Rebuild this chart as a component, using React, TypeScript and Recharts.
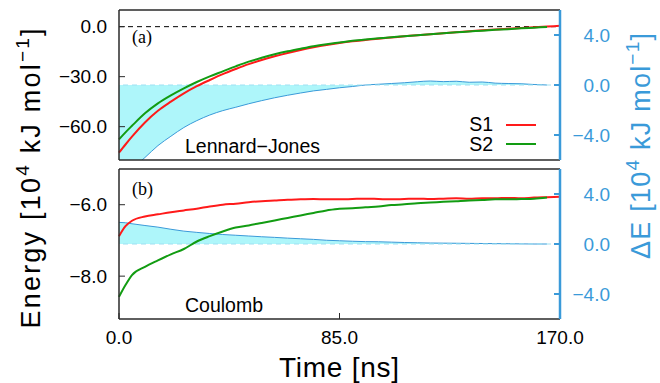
import React from 'react';
import { ComposedChart, Line, Area, XAxis, YAxis, ReferenceLine, Legend } from 'recharts';

// time grid [ns]
const time = [0, 2.5, 5, 10, 15, 20, 25, 30, 35, 40, 45, 50, 55, 60, 65, 70, 75, 80, 85, 90, 95, 100, 105, 110, 115, 120, 125, 130, 135, 140, 145, 150, 155, 160, 165, 170];

// (a) Lennard-Jones, 10^4 kJ/mol
const ljS1 = [-75.6, -70.7, -66, -57.5, -50.5, -45, -40, -35.7, -32, -28.5, -25.4, -22.5, -20, -17.8, -15.8, -14, -12.4, -11, -9.8, -8.8, -8, -7.2, -6.5, -5.8, -5.1, -4.5, -3.9, -3.3, -2.7, -2.2, -1.7, -1.2, -0.75, -0.3, 0.1, 0.5];
const ljS2 = [-67.6, -63.4, -59.5, -52, -46, -41.2, -37, -33.2, -29.8, -26.8, -23.8, -21, -18.7, -16.6, -14.8, -13.2, -11.7, -10.5, -9.5, -8.5, -7.7, -7, -6.3, -5.7, -5.1, -4.5, -3.9, -3.4, -2.9, -2.4, -1.9, -1.5, -1.0, -0.6, -0.2, null];
const ljDelta = [-7.6, -7.15, -6.7, -5.8, -4.85, -4.1, -3.4, -2.85, -2.4, -2.05, -1.78, -1.5, -1.25, -1.02, -0.82, -0.64, -0.47, -0.35, -0.22, -0.12, 0.0, 0.06, 0.12, 0.18, 0.26, 0.32, 0.27, 0.3, 0.22, 0.24, 0.15, 0.12, 0.1, 0.04, 0.0, null];

// (b) Coulomb, 10^4 kJ/mol
const coulS1 = [-6.88, -6.6, -6.45, -6.33, -6.27, -6.21, -6.16, -6.11, -6.05, -6.0, -5.97, -5.93, -5.9, -5.88, -5.86, -5.85, -5.84, -5.85, -5.85, -5.84, -5.83, -5.84, -5.85, -5.84, -5.83, -5.84, -5.83, -5.82, -5.83, -5.82, -5.82, -5.81, -5.82, -5.8, -5.79, -5.78];
const coulS2 = [-8.58, -8.25, -7.97, -7.74, -7.56, -7.39, -7.24, -7.03, -6.88, -6.75, -6.64, -6.58, -6.51, -6.44, -6.37, -6.3, -6.23, -6.16, -6.11, -6.1, -6.07, -6.05, -6.01, -5.99, -5.96, -5.94, -5.92, -5.9, -5.88, -5.87, -5.85, -5.85, -5.84, -5.83, -5.8, null];
const coulDelta = [1.73, 1.7, 1.62, 1.48, 1.35, 1.18, 1.03, 0.93, 0.84, 0.76, 0.7, 0.64, 0.58, 0.53, 0.47, 0.42, 0.37, 0.3, 0.26, 0.22, 0.19, 0.18, 0.15, 0.12, 0.1, 0.08, 0.07, 0.06, 0.05, 0.04, 0.03, 0.02, 0.01, 0.0, 0.0, null];

const xTicks = [0, 85, 170];
const deltaTicks = [-4, 0, 4];
const ljTicks = [-60, -30, 0];
const coulTicks = [-8, -6];

const RED = '#ff1a1a';
const GREEN = '#129c12';
const BLUE = '#3a9ad9';
const CYAN = '#aef6fa';
const FONT = '"Liberation Sans", Arial, Helvetica, sans-serif';
const SERIF = '"Liberation Serif", "Times New Roman", serif';

const fmt = (v: number) => (v < 0 ? '\u2212' : '') + Math.abs(v).toFixed(1);

const ljData = time.map((t, i) => ({ t, s1: ljS1[i], s2: ljS2[i], d: ljDelta[i] }));
const coulData = time.map((t, i) => ({ t, s1: coulS1[i], s2: coulS2[i], d: coulDelta[i] }));

const RightTick = (props: any) => {
    const { x, y, payload } = props;
    return (
        <text x={x + 56} y={y} dy="0.35em" textAnchor="end" fill={BLUE} fontSize={19} fontFamily={FONT}>
            {fmt(payload.value)}
        </text>
    );
};

const renderLegend = (props: any) => {
    const items = (props.payload || []).filter((p: any) => p.value === 'S1' || p.value === 'S2');
    return (
        <svg width={100} height={44}>
            {items.map((p: any, i: number) => (
                <g key={p.value}>
                    <text x={38} y={19 + i * 20} textAnchor="end" fontSize={19.5} fontFamily={FONT} fill="#000">{p.value}</text>
                    <line x1={51} x2={81} y1={13 + i * 19} y2={13 + i * 19} stroke={p.color} strokeWidth={2} />
                </g>
            ))}
        </svg>
    );
};

interface PanelProps {
    data: any[];
    height: number;
    margin: { top: number; right: number; bottom: number; left: number };
    leftDomain: [number, number];
    leftTicks: number[];
    bottomHeight: number;
    showXLabels: boolean;
    zeroLine: boolean;
    legend: boolean;
}

function Panel({ data, height, margin, leftDomain, leftTicks, bottomHeight, showXLabels, zeroLine, legend }: PanelProps) {
    const frame = '#2a2a2a';
    return (
        <ComposedChart width={660} height={height} data={data} margin={margin}>
            <XAxis xAxisId="xt" orientation="top" dataKey="t" type="number" domain={[0, 170]} ticks={xTicks}
                height={1} tick={false} tickSize={-6} axisLine={{ stroke: frame, strokeWidth: 1.5 }} tickLine={{ stroke: frame }} />
            <XAxis xAxisId="xb" dataKey="t" type="number" domain={[0, 170]} ticks={xTicks} height={bottomHeight}
                tick={showXLabels ? { fill: '#000', fontSize: 19, fontFamily: FONT } : false}
                tickFormatter={fmt} tickSize={-6} tickMargin={18}
                axisLine={{ stroke: frame, strokeWidth: 1.5 }} tickLine={{ stroke: frame }} />
            <YAxis yAxisId="left" orientation="left" width={60} domain={leftDomain} allowDataOverflow type="number"
                ticks={leftTicks} tickFormatter={fmt} tickSize={-6} tickMargin={18}
                tick={{ fill: '#000', fontSize: 19, fontFamily: FONT }}
                axisLine={{ stroke: frame, strokeWidth: 1.5 }} tickLine={{ stroke: frame }} />
            <YAxis yAxisId="right" orientation="right" width={60} domain={[-6, 6]} allowDataOverflow type="number"
                ticks={deltaTicks} tickSize={-6} tickMargin={0} tick={<RightTick />}
                axisLine={{ stroke: BLUE, strokeWidth: 2.5 }} tickLine={{ stroke: BLUE, strokeWidth: 2 }} />
            <Area xAxisId="xb" yAxisId="right" dataKey="d" type="monotone" stroke={BLUE} strokeWidth={1}
                fill={CYAN} fillOpacity={1} legendType="none" isAnimationActive={false} dot={false} activeDot={false} />
            <ReferenceLine xAxisId="xb" yAxisId="right" y={0} stroke="#9fe0f2" strokeDasharray="5 4" strokeWidth={1} />
            {zeroLine && <ReferenceLine xAxisId="xb" yAxisId="left" y={0} stroke="#000" strokeDasharray="5 4" strokeWidth={1} />}
            <Line xAxisId="xb" yAxisId="left" dataKey="s1" name="S1" type="monotone" stroke={RED} strokeWidth={2}
                dot={false} activeDot={false} isAnimationActive={false} />
            <Line xAxisId="xb" yAxisId="left" dataKey="s2" name="S2" type="monotone" stroke={GREEN} strokeWidth={2}
                dot={false} activeDot={false} isAnimationActive={false} />
            {legend && (
                <Legend layout="vertical" align="center" verticalAlign="middle"
                    wrapperStyle={{ left: 455, top: 112, width: 100, height: 44 }} content={renderLegend} />
            )}
        </ComposedChart>
    );
}

export default function App() {
    return (
        <div style={{ position: 'absolute', left: 0, top: 0, width: 660, height: 383, background: '#fff', fontFamily: FONT }}>
            <div style={{ position: 'absolute', left: 0, top: 0 }}>
                <Panel data={ljData} height={171} margin={{ top: 9, right: 40, bottom: 0, left: 59 }}
                    leftDomain={[-80, 10]} leftTicks={ljTicks} bottomHeight={11} showXLabels={false} zeroLine legend />
            </div>
            <div style={{ position: 'absolute', left: 0, top: 160 }}>
                <Panel data={coulData} height={223} margin={{ top: 8, right: 40, bottom: 24, left: 59 }}
                    leftDomain={[-9.2, -5]} leftTicks={coulTicks} bottomHeight={40} showXLabels zeroLine={false} legend={false} />
            </div>
            <svg width={660} height={383} style={{ position: 'absolute', left: 0, top: 0, pointerEvents: 'none' }}>
                <text x={132} y={43} fontSize={18} fontFamily={SERIF}>(a)</text>
                <text x={132} y={195} fontSize={18} fontFamily={SERIF}>(b)</text>
                <text x={185} y={153} fontSize={19.5} fontFamily={FONT}>Lennard{'\u2212'}Jones</text>
                <text x={185} y={312} fontSize={19.5} fontFamily={FONT}>Coulomb</text>
                <text transform="translate(40,178.5) rotate(-90)" textAnchor="middle" fontSize={27} fontFamily={FONT} fill="#000"
                    textLength={300} lengthAdjust="spacing">
                    Energy [10<tspan dy={-11} fontSize={19}>4</tspan><tspan dy={11}> kJ mol</tspan><tspan dy={-11} fontSize={19}>{'\u2212'}1</tspan><tspan dy={11}>]</tspan>
                </text>
                <text transform="translate(650,146) rotate(-90)" textAnchor="middle" fontSize={27} fontFamily={FONT} fill={BLUE}
                    textLength={226} lengthAdjust="spacing">
                    {'\u0394'}E [10<tspan dy={-11} fontSize={19}>4</tspan><tspan dy={11}> kJ mol</tspan><tspan dy={-11} fontSize={19}>{'\u2212'}1</tspan><tspan dy={11}>]</tspan>
                </text>
                <text x={339} y={377} textAnchor="middle" fontSize={28} fontFamily={FONT} textLength={120} lengthAdjust="spacing">Time [ns]</text>
            </svg>
        </div>
    );
}
